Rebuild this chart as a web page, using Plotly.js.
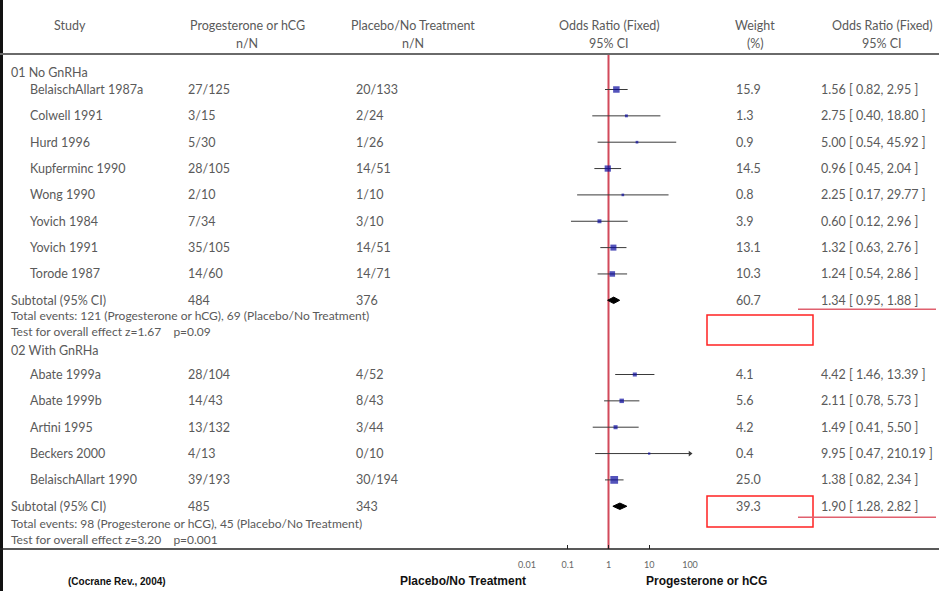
<!DOCTYPE html>
<html><head><meta charset="utf-8">
<script src="https://cdn.plot.ly/plotly-3.0.1.min.js"></script>
<style>html,body{margin:0;padding:0;background:#fff;} #chart{width:939px;height:591px;}</style>
</head><body><div id="chart"></div>
<script>
// ---------------- DATA ----------------
const headerTop = ["Study", "Progesterone or hCG", "Placebo/No Treatment", "Odds Ratio (Fixed)", "Weight", "Odds Ratio (Fixed)"];
const headerBottom = ["", "n/N", "n/N", "95% CI", "(%)", "95% CI"];

const group1Name = "01 No GnRHa";
const studies1 = ["BelaischAllart 1987a", "Colwell 1991", "Hurd 1996", "Kupferminc 1990", "Wong 1990", "Yovich 1984", "Yovich 1991", "Torode 1987"];
const treat1 = ["27/125", "3/15", "5/30", "28/105", "2/10", "7/34", "35/105", "14/60"];
const ctrl1 = ["20/133", "2/24", "1/26", "14/51", "1/10", "3/10", "14/51", "14/71"];
const weight1 = [15.9, 1.3, 0.9, 14.5, 0.8, 3.9, 13.1, 10.3];
const or1 = [1.56, 2.75, 5.00, 0.96, 2.25, 0.60, 1.32, 1.24];
const lo1 = [0.82, 0.40, 0.54, 0.45, 0.17, 0.12, 0.63, 0.54];
const hi1 = [2.95, 18.80, 45.92, 2.04, 29.77, 2.96, 2.76, 2.86];
const sub1 = {treat: "484", ctrl: "376", weight: 60.7, or: 1.34, lo: 0.95, hi: 1.88};
const events1 = "Total events: 121 (Progesterone or hCG), 69 (Placebo/No Treatment)";
const test1 = "Test for overall effect z=1.67    p=0.09";

const group2Name = "02 With GnRHa";
const studies2 = ["Abate 1999a", "Abate 1999b", "Artini 1995", "Beckers 2000", "BelaischAllart 1990"];
const treat2 = ["28/104", "14/43", "13/132", "4/13", "39/193"];
const ctrl2 = ["4/52", "8/43", "3/44", "0/10", "30/194"];
const weight2 = [4.1, 5.6, 4.2, 0.4, 25.0];
const or2 = [4.42, 2.11, 1.49, 9.95, 1.38];
const lo2 = [1.46, 0.78, 0.41, 0.47, 0.82];
const hi2 = [13.39, 5.73, 5.50, 210.19, 2.34];
const sub2 = {treat: "485", ctrl: "343", weight: 39.3, or: 1.90, lo: 1.28, hi: 2.82};
const events2 = "Total events: 98 (Progesterone or hCG), 45 (Placebo/No Treatment)";
const test2 = "Test for overall effect z=3.20    p=0.001";

const tickVals = [0.01, 0.1, 1, 10, 100];
const tickText = ["0.01", "0.1", "1", "10", "100"];
const leftLabel = "Placebo/No Treatment";
const rightLabel = "Progesterone or hCG";
const sourceLabel = "(Cocrane Rev., 2004)";

// ---------------- LAYOUT HELPERS ----------------
const W = 939, H = 591;
const px = v => v / W;
const FONT = 'Lato, "Open Sans", sans-serif';
const GRAY = '#5a5a5a';
const FS = 12.5;
const col = {group: 10, study: 29, treat: 187, ctrl: 355, weight: 735, ortext: 820};
const hdrX = [70, 247, 413, 609, 755, 882];
const AXIS_Y = 549, HEADER_LINE_Y = 54;

const groups = [
  {name: group1Name, studies: studies1, treat: treat1, ctrl: ctrl1, w: weight1, or: or1, lo: lo1, hi: hi1, sub: sub1, events: events1, test: test1,
   headY: 72, y0: 89.5, pitch: 26.35, noteGap: 23},
  {name: group2Name, studies: studies2, treat: treat2, ctrl: ctrl2, w: weight2, or: or2, lo: lo2, hi: hi2, sub: sub2, events: events2, test: test2,
   headY: 350, y0: 374.5, pitch: 26.35, noteGap: 25}
];

const fmt2 = v => v.toFixed(2);
const orText = (o, l, h) => `${fmt2(o)} [ ${fmt2(l)}, ${fmt2(h)} ]`;

const annotations = [];
function txt(x, y, text, anchor, opts) {
  opts = opts || {};
  annotations.push({
    xref: 'paper', yref: 'y', x: px(x), y: y, text: text, showarrow: false,
    xanchor: anchor || 'left', yanchor: 'middle', align: 'left',
    font: {family: opts.family || FONT, size: opts.size || FS, color: opts.color || GRAY},
    borderpad: 0
  });
}

// headers
headerTop.forEach((t, i) => txt(hdrX[i], 25, t, 'center'));
headerBottom.forEach((t, i) => { if (t) txt(hdrX[i], 43, t, 'center'); });

const ciX = [], ciY = [];
const sqX = [], sqY = [], sqS = [];
const arrX = [], arrY = [];
const traces = [];
const XMAX = tickVals[tickVals.length - 1];

groups.forEach(g => {
  txt(col.group, g.headY, g.name, 'left');
  g.studies.forEach((s, i) => {
    const y = g.y0 + i * g.pitch;
    txt(col.study, y, s);
    txt(col.treat, y, g.treat[i]);
    txt(col.ctrl, y, g.ctrl[i]);
    txt(col.weight, y, g.w[i].toFixed(1));
    txt(col.ortext, y, orText(g.or[i], g.lo[i], g.hi[i]));
    ciX.push(g.lo[i], Math.min(g.hi[i], XMAX), null);
    ciY.push(y, y, null);
    if (g.hi[i] > XMAX) { arrX.push(XMAX); arrY.push(y); }
    sqX.push(g.or[i]); sqY.push(y); sqS.push(1.5 + 1.25 * Math.sqrt(g.w[i]));
  });
  const ys = g.y0 + g.studies.length * g.pitch;
  txt(col.group, ys, "Subtotal (95% CI)");
  txt(col.treat, ys, g.sub.treat);
  txt(col.ctrl, ys, g.sub.ctrl);
  txt(col.weight, ys, g.sub.weight.toFixed(1));
  txt(col.ortext, ys, orText(g.sub.or, g.sub.lo, g.sub.hi));
  txt(col.group, ys + g.noteGap, g.events + '<br>' + g.test, 'left', {size: 12});
  g.subY = ys;
  traces.push({
    type: 'scatter', mode: 'lines', x: [g.sub.lo, g.sub.or, g.sub.hi, g.sub.or, g.sub.lo],
    y: [ys, ys - 3.2, ys, ys + 3.2, ys], fill: 'toself', fillcolor: '#000',
    line: {color: '#000', width: 1}, hoverinfo: 'skip', showlegend: false
  });
});

// reference line at OR = 1
traces.unshift({type: 'scatter', mode: 'lines', x: [1, 1], y: [HEADER_LINE_Y + 1, AXIS_Y],
  line: {color: '#d2495a', width: 2}, hoverinfo: 'skip', showlegend: false});
traces.push({type: 'scatter', mode: 'lines', x: ciX, y: ciY, line: {color: '#3a3a3a', width: 1},
  hoverinfo: 'skip', showlegend: false});
traces.push({type: 'scatter', mode: 'markers', x: sqX, y: sqY,
  marker: {symbol: 'square', size: sqS, color: '#0a0a9e', line: {width: 0}}, hoverinfo: 'skip', showlegend: false});
traces.push({type: 'scatter', mode: 'markers', x: arrX, y: arrY, cliponaxis: false,
  marker: {symbol: 'triangle-right', size: 5, color: '#3a3a3a'}, hoverinfo: 'skip', showlegend: false});

// bottom labels
annotations.push({xref: 'paper', yref: 'y', x: px(117), y: 581, text: '<b>' + sourceLabel + '</b>', showarrow: false,
  xanchor: 'center', yanchor: 'middle', font: {family: 'Arial, "Liberation Sans", sans-serif', size: 10, color: '#111'}});
annotations.push({xref: 'paper', yref: 'y', x: px(463), y: 581, text: '<b>' + leftLabel + '</b>', showarrow: false,
  xanchor: 'center', yanchor: 'middle', font: {family: 'Arial, "Liberation Sans", sans-serif', size: 12, color: '#111'}});
annotations.push({xref: 'paper', yref: 'y', x: px(706), y: 581, text: '<b>' + rightLabel + '</b>', showarrow: false,
  xanchor: 'center', yanchor: 'middle', font: {family: 'Arial, "Liberation Sans", sans-serif', size: 12, color: '#111'}});

const shapes = [
  {type: 'rect', xref: 'paper', yref: 'paper', x0: 0, x1: px(3), y0: 0, y1: 1, fillcolor: '#111', line: {width: 0}},
  {type: 'line', xref: 'paper', yref: 'y', x0: 0, x1: 1, y0: HEADER_LINE_Y, y1: HEADER_LINE_Y, line: {color: '#6a6a6a', width: 2}},
  {type: 'line', xref: 'paper', yref: 'y', x0: 0, x1: 1, y0: AXIS_Y, y1: AXIS_Y, line: {color: '#222', width: 1.6}},
  // highlight marks
  {type: 'rect', xref: 'paper', yref: 'y', x0: px(707), x1: px(813), y0: 315, y1: 345, line: {color: '#f22', width: 1.5}},
  {type: 'rect', xref: 'paper', yref: 'y', x0: px(707), x1: px(813), y0: 496, y1: 527, line: {color: '#f22', width: 1.5}},
  {type: 'line', xref: 'paper', yref: 'y', x0: px(798), x1: px(936), y0: groups[0].subY + 9, y1: groups[0].subY + 9, line: {color: '#e0606e', width: 1.5}},
  {type: 'line', xref: 'paper', yref: 'y', x0: px(798), x1: px(936), y0: groups[1].subY + 11, y1: groups[1].subY + 11, line: {color: '#e0606e', width: 1.5}}
];

const layout = {
  width: W, height: H, margin: {l: 0, r: 0, t: 0, b: 0},
  paper_bgcolor: '#fff', plot_bgcolor: 'rgba(0,0,0,0)', showlegend: false,
  xaxis: {type: 'log', range: [Math.log10(tickVals[0]), Math.log10(XMAX)], domain: [px(527), px(690)],
    anchor: 'free', position: 1 - AXIS_Y / H, side: 'bottom',
    showline: false, showgrid: false, zeroline: false,
    ticks: 'inside', ticklen: 4, tickwidth: 1, tickcolor: '#222',
    tickvals: tickVals, ticktext: tickText, ticklabelstandoff: 9,
    tickfont: {family: FONT, size: 9, color: '#666'}, fixedrange: true},
  yaxis: {range: [H, 0], domain: [0, 1], visible: false, fixedrange: true},
  annotations: annotations, shapes: shapes
};

Plotly.newPlot('chart', traces, layout, {displayModeBar: false, staticPlot: true});
</script></body></html>
